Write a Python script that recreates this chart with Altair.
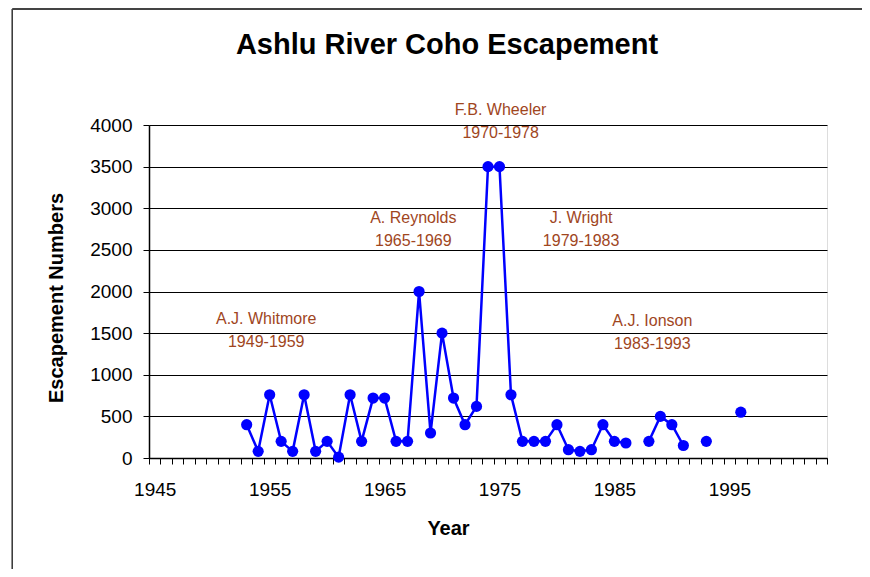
import altair as alt
import pandas as pd

# ---- data ----
years = [1953, 1954, 1955, 1956, 1957, 1958, 1959, 1960, 1961, 1962,
         1963, 1964, 1965, 1966, 1967, 1968, 1969, 1970, 1971, 1972,
         1973, 1974, 1975, 1976, 1977, 1978, 1979, 1980, 1981, 1982,
         1983, 1984, 1985, 1986, 1988, 1989, 1990, 1991, 1993, 1996]
escapement = [400, 80, 760, 200, 80, 760, 80, 200, 10, 760,
              200, 720, 720, 200, 200, 2000, 300, 1500, 720, 400,
              620, 3500, 3500, 760, 200, 200, 200, 400, 100, 80,
              100, 400, 200, 180, 200, 500, 400, 150, 200, 550]

ann_names = ["A.J. Whitmore", "A. Reynolds", "F.B. Wheeler", "J. Wright", "A.J. Ionson"]
ann_periods = ["1949-1959", "1965-1969", "1970-1978", "1979-1983", "1983-1993"]
ann_year = [1954.7, 1967.5, 1975.1, 1982.1, 1988.3]
ann_value = [1530, 2750, 4040, 2750, 1510]

y_ticks = [0, 500, 1000, 1500, 2000, 2500, 3000, 3500, 4000]
x_first, x_last = 1945, 2003
x_label_years = [1945, 1955, 1965, 1975, 1985, 1995]

# ---- layout ----
W, H = 678, 333
PAD = {"left": 141, "top": 117, "right": 35, "bottom": 111}
n_cat = x_last - x_first + 1
half = W / n_cat / 2
FONT = "Liberation Sans"
ANN_COLOR = "#A0461E"
BLUE = "#0000FF"

seg = []
s = 0
for i, yv in enumerate(years):
    if i > 0 and yv - years[i - 1] > 1:
        s += 1
    seg.append(s)
df = pd.DataFrame({"year": years, "value": escapement, "seg": seg})
ann = pd.DataFrame({"year": ann_year, "value": ann_value,
                    "name": ann_names, "period": ann_periods})

boundaries = [x_first - 0.5 + i for i in range(n_cat + 1)]
label_arr = "[" + ",".join(str(v) for v in x_label_years) + "]"
label_expr = f"indexof({label_arr}, datum.value + 0.5) >= 0 ? format(datum.value + 0.5, 'd') : ''"

xscale = alt.Scale(domain=[x_first - 0.5, x_last + 0.5], nice=False, zero=False)
yscale = alt.Scale(domain=[0, 4000], nice=False)

x_axis = alt.Axis(values=boundaries, tickCount=200, labelExpr=label_expr, labelOffset=half,
                  tickSize=6, tickColor="black", tickWidth=1,
                  domainColor="black", domainWidth=1.5, grid=False,
                  labelFont=FONT, labelFontSize=19, labelColor="black",
                  labelPadding=16, labelOverlap=False, labelFlush=False,
                  title="Year", titleFont=FONT, titleFontSize=20,
                  titleFontWeight="bold", titleColor="black",
                  titleX=299, titleY=70, titleBaseline="middle", titleAlign="center")
y_axis = alt.Axis(values=y_ticks, tickCount=50, format="d",
                  tickSize=6, tickColor="black", tickWidth=1,
                  grid=True, gridColor="black", gridWidth=1,
                  domainColor="black", domainWidth=1.5,
                  labelFont=FONT, labelFontSize=19, labelColor="black",
                  labelPadding=11, labelOverlap=False, labelFlush=False,
                  title="Escapement Numbers", titleFont=FONT, titleFontSize=20,
                  titleFontWeight="bold", titleColor="black",
                  titleX=-93, titleY=172.5, titleAngle=270,
                  titleBaseline="middle", titleAlign="center")

base = alt.Chart(df)
line = base.mark_line(color=BLUE, strokeWidth=2.5).encode(
    x=alt.X("year:Q", scale=xscale, axis=x_axis),
    y=alt.Y("value:Q", scale=yscale, axis=y_axis),
    detail="seg:N",
)
points = base.mark_circle(color=BLUE, size=125, opacity=1).encode(
    x=alt.X("year:Q", scale=xscale),
    y=alt.Y("value:Q", scale=yscale),
)
ann_name = alt.Chart(ann).mark_text(font=FONT, fontSize=16, color=ANN_COLOR,
                                    dy=-11.5, baseline="middle").encode(
    x=alt.X("year:Q", scale=xscale), y=alt.Y("value:Q", scale=yscale), text="name:N")
ann_period = alt.Chart(ann).mark_text(font=FONT, fontSize=16, color=ANN_COLOR,
                                      dy=11.5, baseline="middle").encode(
    x=alt.X("year:Q", scale=xscale), y=alt.Y("value:Q", scale=yscale), text="period:N")

frame_df = pd.DataFrame({"frame": [0]})
frame_left = alt.Chart(frame_df).mark_rule(color="#333333", strokeWidth=1.5).encode(
    x=alt.value(12.5 - 149.3), y=alt.value(-116), y2=alt.value(444))
frame_top = alt.Chart(frame_df).mark_rule(color="#444444", strokeWidth=2).encode(
    x=alt.value(12.5 - 149.3), x2=alt.value(713), y=alt.value(-116))

chart = alt.layer(frame_left, frame_top, line, points, ann_name, ann_period).properties(
    width=W, height=H,
    autosize=alt.AutoSizeParams(type="none"),
    padding=PAD,
    title=alt.TitleParams("Ashlu River Coho Escapement", font=FONT, fontSize=29,
                          fontWeight="bold", color="black", anchor="middle",
                          frame="group", dx=-41, dy=56),
).configure_view(stroke="#808080", strokeWidth=2).configure(background="white")

chart.save("out.html", embed_options={"renderer": "svg", "actions": False})
